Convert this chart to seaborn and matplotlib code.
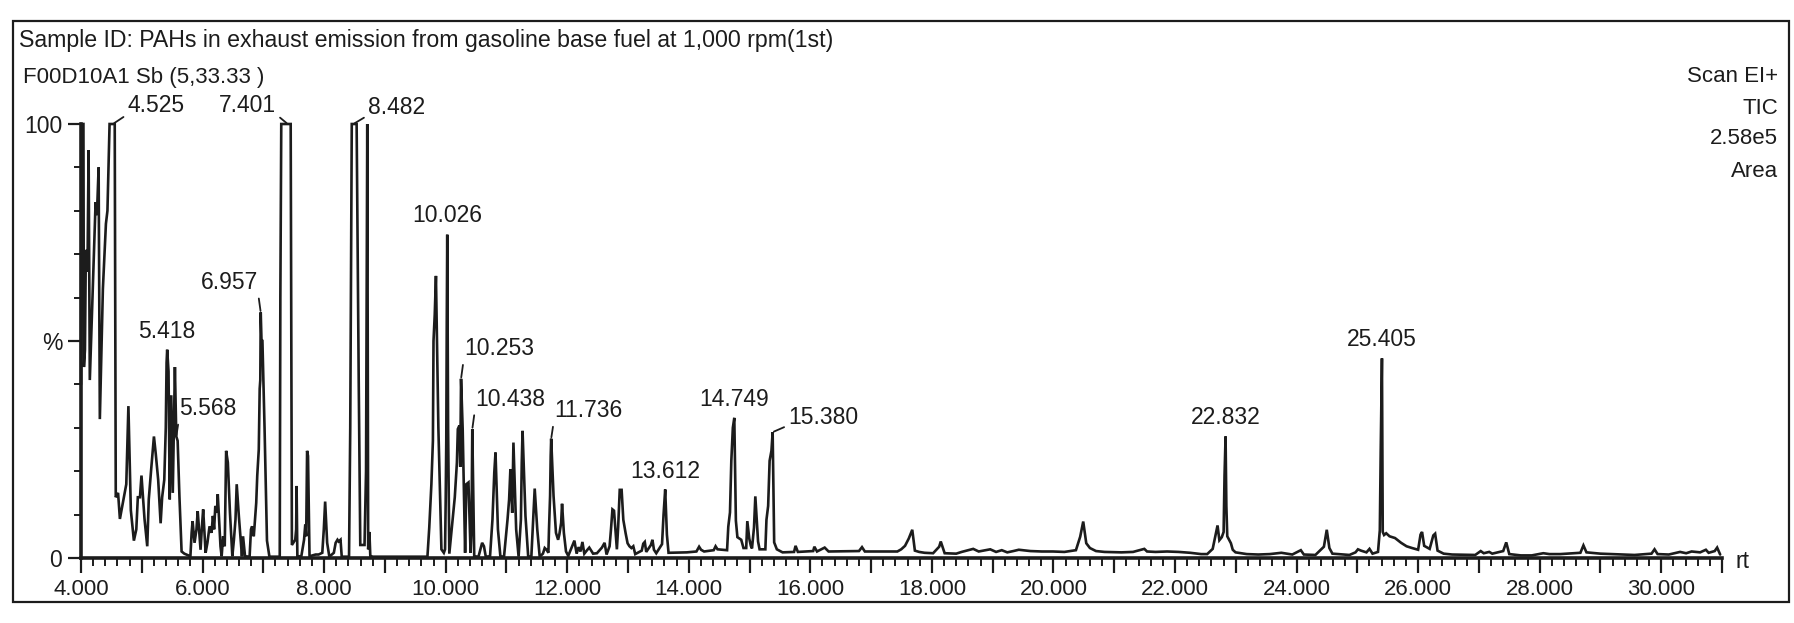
import matplotlib
matplotlib.use("Agg")
import matplotlib.pyplot as plt
import seaborn as sns
import pandas as pd
from matplotlib.ticker import MultipleLocator, FixedLocator, FuncFormatter
from matplotlib.patches import Rectangle

# ---------------- data (retention time in min, intensity in %) ----------------
rt_seg1 = [4.000, 4.008, 4.040, 4.048, 4.065, 4.080, 4.095, 4.108, 4.125, 4.145, 4.185, 4.240,
           4.262, 4.290, 4.310, 4.360, 4.410, 4.435, 4.470, 4.555, 4.572, 4.610, 4.640, 4.700,
           4.745, 4.780, 4.820, 4.870, 4.910, 4.935, 4.970, 4.995, 5.045, 5.090, 5.115, 5.155,
           5.200, 5.230, 5.270, 5.310, 5.335, 5.370, 5.395, 5.408, 5.418, 5.440, 5.460, 5.485,
           5.510, 5.545, 5.568, 5.590, 5.620, 5.655, 5.700]
pct_seg1 = [40, 100, 100, 44, 48, 71, 66, 68, 94, 41, 58, 82,
            79, 90, 32, 62, 77, 80, 100, 100, 14, 15, 9, 13.5,
            17, 35, 11, 4, 6.6, 14, 14, 19, 9, 2.7, 13.5, 20.5,
            28, 24, 18, 8, 14, 18, 30, 45, 48, 43, 13.5, 37.5,
            15, 44, 28, 27, 14, 1.5, 1]

rt_seg2 = [5.800, 5.820, 5.836, 5.868, 5.900, 5.920, 5.967, 5.990, 6.010, 6.050, 6.080, 6.115,
           6.148, 6.170, 6.190, 6.210, 6.237, 6.250, 6.295, 6.314, 6.338, 6.365, 6.377, 6.388,
           6.416, 6.451, 6.490, 6.516, 6.542, 6.562, 6.597, 6.623, 6.648, 6.666, 6.699, 6.774,
           6.797, 6.815, 6.843, 6.863, 6.883, 6.900, 6.925, 6.940, 6.950, 6.957, 6.970, 6.985,
           7.020, 7.060, 7.100, 7.270, 7.280, 7.295, 7.450, 7.470, 7.525, 7.540, 7.547, 7.560,
           7.625, 7.670, 7.690, 7.705, 7.720, 7.735, 7.760, 7.860, 7.910, 7.970, 7.995, 8.017,
           8.050, 8.086, 8.160, 8.190, 8.220, 8.240, 8.270, 8.290, 8.410, 8.430, 8.455, 8.535,
           8.570, 8.595, 8.665, 8.690, 8.710, 8.725, 8.745, 8.760, 8.800]
pct_seg2 = [0.4, 5.8, 8.5, 3.5, 6.6, 10.8, 1.9, 7.3, 11.2, 1.2, 3.5, 7.3,
            5.8, 9.7, 6.6, 12, 10.4, 14.7, 2.7, 0.4, 5, 2.7, 14.3, 24.7,
            22, 10.4, 0.4, 4.2, 8.9, 17, 9.7, 5, 0.4, 5, 0.4, 0.3,
            6.6, 7.3, 5, 8.9, 12.7, 19, 25, 39, 41, 56.6, 50, 50,
            30, 4, 0.3, 0.3, 60, 100, 100, 3, 4.2, 6.6, 16.6, 0.4,
            0.4, 4.2, 7.7, 5, 24.7, 23.5, 0.4, 0.8, 0.8, 1.2, 6.6, 13,
            3.5, 0.3, 1.2, 3.5, 4.2, 3.8, 4.2, 0.3, 0.3, 30, 100, 100,
            40, 3, 3, 20, 100, 2, 6, 0.5, 0.3]

rt_seg3 = [9.700, 9.730, 9.765, 9.790, 9.800, 9.820, 9.840, 9.880, 9.930, 9.970, 9.990, 10.000,
           10.010, 10.018, 10.026, 10.040, 10.060, 10.150, 10.185, 10.200, 10.225, 10.240, 10.253,
           10.280, 10.320, 10.340, 10.375, 10.410, 10.425, 10.438, 10.470, 10.540, 10.600, 10.630,
           10.660, 10.730, 10.770, 10.800, 10.820, 10.860, 10.900, 10.960, 11.018, 11.044, 11.065,
           11.095, 11.115, 11.160, 11.200, 11.238, 11.252, 11.265, 11.313, 11.358, 11.410, 11.440,
           11.465, 11.507, 11.547, 11.600, 11.630, 11.660, 11.690, 11.700, 11.718, 11.728, 11.736,
           11.775, 11.815, 11.850, 11.870, 11.900, 11.915, 11.945, 11.980]
pct_seg3 = [0.3, 7, 17, 27, 50, 56, 65, 30, 2, 1.2, 2, 12.7,
            27, 54, 74.5, 30, 1, 14, 22, 29.7, 30.5, 21, 41.3,
            29.7, 1.2, 17, 17.4, 1.2, 6.6, 29.7, 0.4, 0.3, 3.5, 2.7,
            0.3, 0.4, 8.9, 19.7, 24.3, 6.6, 0.4, 0.3, 8.9, 13.5, 20.5,
            10.4, 26.6, 6.6, 0.3, 8.9, 22, 29.3, 9.7, 0.3, 0.4, 8.9,
            16, 6.6, 0.3, 1, 2.3, 1.9, 1.2, 6.6, 14.3, 23.5, 27.5,
            14.3, 5.8, 4.2, 5.4, 8.1, 12.5, 5.8, 1.5]

rt_seg4 = [12.017, 12.118, 12.155, 12.187, 12.218, 12.250, 12.281, 12.332, 12.363, 12.395, 12.426,
           12.489, 12.571, 12.615, 12.647, 12.697, 12.720, 12.744, 12.770, 12.817, 12.838, 12.864,
           12.895, 12.923, 12.961, 12.993, 13.024, 13.056, 13.087, 13.119, 13.226, 13.251, 13.276,
           13.300, 13.377, 13.402, 13.427, 13.465, 13.560, 13.585, 13.612, 13.640, 13.667, 13.969,
           14.126, 14.170, 14.202, 14.252, 14.410, 14.441, 14.473, 14.630, 14.650, 14.678, 14.700,
           14.725, 14.749, 14.775, 14.800, 14.863, 14.900, 14.945, 14.963, 14.995, 15.021, 15.040,
           15.073, 15.095, 15.140, 15.165, 15.260, 15.278, 15.306, 15.330, 15.360, 15.380, 15.405,
           15.449, 15.543, 15.732, 15.757, 15.795]
pct_seg4 = [0.5, 4, 1, 2.5, 1.5, 3.7, 1, 1.9, 2.4, 1.7, 1,
            1.1, 2.4, 3.5, 0.8, 2.7, 6.6, 11.2, 10.9, 2, 7.1, 15.7,
            15.7, 8.8, 5.7, 3.4, 2.7, 2.3, 2.7, 0.9, 1.7, 3.3, 3.7,
            1.4, 3, 4.2, 1.9, 1.1, 3.2, 10, 15.8, 5.4, 1.2, 1.3,
            1.5, 2.6, 1.9, 1.5, 1.8, 2.7, 2.0, 1.8, 7.2, 10.5, 22.4,
            30, 32.3, 8.6, 4.8, 4.2, 2.3, 2.3, 8.5, 4.5, 2.8, 2.2,
            7.0, 14.2, 3.8, 2.0, 2.0, 8.8, 12, 22.4, 24.7, 29, 3.6,
            2.0, 1.3, 1.4, 2.8, 1.4]

rt_seg5 = [16.047, 16.066, 16.110, 16.236, 16.300, 16.800, 16.850, 16.897, 17.432, 17.495, 17.558,
           17.620, 17.677, 17.720, 17.790, 17.880, 18.020, 18.120, 18.146, 18.210, 18.400, 18.490,
           18.630, 18.680, 18.770, 18.960, 19.056, 19.150, 19.240, 19.340, 19.430, 19.620, 19.810,
           19.990, 20.180, 20.370, 20.440, 20.490, 20.540, 20.600, 20.700, 20.840, 21.120, 21.310,
           21.495, 21.540, 21.680, 21.870, 22.060, 22.250, 22.430, 22.530, 22.620, 22.670, 22.700,
           22.730, 22.770, 22.800, 22.815, 22.832, 22.845, 22.860, 22.920, 22.950, 22.996, 23.180,
           23.370, 23.560, 23.750, 23.930, 24.070, 24.120, 24.310, 24.450, 24.497, 24.540, 24.590,
           24.870, 24.970, 25.010, 25.060, 25.150, 25.200, 25.250, 25.340, 25.370, 25.385, 25.398,
           25.405, 25.418, 25.440, 25.475, 25.530, 25.620, 25.720, 25.810, 25.900, 26.000, 26.040,
           26.065, 26.100, 26.190, 26.250, 26.280, 26.320, 26.420, 26.560, 26.940, 27.030, 27.080,
           27.170, 27.220, 27.400, 27.450, 27.500, 27.690, 27.870, 28.060, 28.160, 28.340, 28.670,
           28.720, 28.770, 29.000, 29.560, 29.840, 29.890, 29.940, 30.125, 30.220, 30.310, 30.410,
           30.500, 30.640, 30.735, 30.780, 30.880, 30.920, 30.970]
pct_seg5 = [1.6, 2.6, 1.5, 2.4, 1.5, 1.6, 2.5, 1.5, 1.5, 2.0, 2.8,
            4.5, 6.5, 1.7, 1.4, 1.2, 1.1, 2.6, 3.8, 1.1, 1.0, 1.4,
            1.9, 2.1, 1.5, 2.0, 1.4, 1.8, 1.3, 1.6, 1.9, 1.6, 1.5,
            1.5, 1.4, 1.8, 4.9, 8.4, 3.4, 2.3, 1.6, 1.4, 1.3, 1.4,
            2.1, 1.5, 1.4, 1.5, 1.4, 1.2, 0.9, 0.9, 2.1, 5.5, 7.5,
            4.1, 4.8, 6.0, 19, 28, 12, 5, 3.4, 1.9, 1.3, 0.9,
            0.8, 0.9, 1.2, 0.8, 1.8, 0.8, 0.7, 2.6, 6.5, 2.3, 1.0,
            0.7, 1.3, 2.0, 1.7, 1.3, 2.1, 1.0, 1.4, 6.4, 25, 38,
            46, 6, 5.3, 5.7, 5.0, 4.6, 3.5, 2.7, 2.3, 1.9, 5.4,
            6.0, 2.8, 2.1, 5.2, 5.6, 1.7, 1.0, 0.8, 0.7, 1.6, 1.1,
            1.4, 1.0, 1.6, 3.6, 0.9, 0.6, 0.6, 1.1, 0.9, 0.9, 1.2,
            2.9, 1.3, 1.0, 0.7, 1.0, 2.0, 0.9, 0.8, 1.1, 1.4, 1.1,
            1.5, 1.3, 1.9, 1.2, 1.6, 2.4, 0.8]

peak_labels = ["4.525", "5.418", "5.568", "6.957", "7.401", "8.482", "10.026", "10.253",
               "10.438", "11.736", "13.612", "14.749", "15.380", "22.832", "25.405"]
peak_rt = [4.525, 5.418, 5.568, 6.957, 7.401, 8.482, 10.026, 10.253,
           10.438, 11.736, 13.612, 14.749, 15.380, 22.832, 25.405]
peak_pct = [100, 48, 28, 56.6, 100, 100, 74.5, 41.3,
            29.7, 27.5, 15.8, 32.3, 29, 28, 46]

x_tick_labels = ["4.000", "6.000", "8.000", "10.000", "12.000", "14.000", "16.000",
                 "18.000", "20.000", "22.000", "24.000", "26.000", "28.000", "30.000"]
y_tick_labels = {0: "0", 50: "%", 100: "100"}

title_text = "Sample ID: PAHs in exhaust emission from gasoline base fuel at 1,000 rpm(1st)"
sub_text = "F00D10A1 Sb (5,33.33 )"
info_lines = ["Scan EI+", "TIC", "2.58e5", "Area"]

# ---------------- layout / style ----------------
W, H = 1794, 623
INK = "#1c1c1c"
label_layout = {  # label -> (dx px, dy px, ha)
    "4.525": (15, 18, "left"), "7.401": (-12, 18, "right"), "8.482": (15, 17, "left"),
    "10.026": (0, 19, "center"), "6.957": (-3, 30, "right"), "5.418": (0, 18, "center"),
    "5.568": (3, 28, "left"), "10.253": (3, 30, "left"), "10.438": (3, 30, "left"),
    "11.736": (3, 28, "left"), "13.612": (0, 18, "center"), "14.749": (0, 18, "center"),
    "15.380": (16, 15, "left"), "22.832": (0, 19, "center"), "25.405": (0, 19, "center"),
}

sns.set_theme(style="white")
plt.rcParams["font.family"] = ["Liberation Sans", "DejaVu Sans"]
plt.rcParams["text.color"] = INK
plt.rcParams["axes.edgecolor"] = INK
plt.rcParams["xtick.color"] = INK
plt.rcParams["ytick.color"] = INK

df = pd.DataFrame({
    "rt": rt_seg1 + rt_seg2 + rt_seg3 + rt_seg4 + rt_seg5,
    "pct": pct_seg1 + pct_seg2 + pct_seg3 + pct_seg4 + pct_seg5,
})

fig = plt.figure(figsize=(W / 100, H / 100), dpi=100)
fig.patch.set_facecolor("white")

ax_left, ax_right, ax_top, ax_bot = 81, 1722, 124, 558
ax = fig.add_axes([ax_left / W, (H - ax_bot) / H, (ax_right - ax_left) / W, (ax_bot - ax_top) / H])
ax.set_facecolor("white")

sns.lineplot(data=df, x="rt", y="pct", sort=False, estimator=None, ax=ax,
             color=INK, linewidth=1.9, legend=False)
for ln in ax.lines:
    ln.set_clip_on(False)
    ln.set_solid_joinstyle("miter")

ax.set_xlim(4.0, 31.0)
ax.set_ylim(0, 100)
ax.set_xlabel("")
ax.set_ylabel("")
for s in ["top", "right"]:
    ax.spines[s].set_visible(False)
for s in ["left", "bottom"]:
    ax.spines[s].set_linewidth(2.6)
    ax.spines[s].set_color(INK)

ax.xaxis.set_major_locator(MultipleLocator(1))
ax.xaxis.set_minor_locator(MultipleLocator(0.2))
even_vals = [float(t) for t in x_tick_labels]
ax.xaxis.set_major_formatter(FuncFormatter(
    lambda v, p: x_tick_labels[even_vals.index(round(v))]
    if round(v) in even_vals and abs(v - round(v)) < 1e-6 else ""))
ax.tick_params(axis="x", which="both", bottom=True, top=False, direction="out")
ax.tick_params(axis="x", which="major", length=11, width=1.6, labelsize=16, pad=4)
ax.tick_params(axis="x", which="minor", length=5.5, width=1.4)

ax.yaxis.set_major_locator(FixedLocator(list(y_tick_labels.keys())))
ax.yaxis.set_minor_locator(MultipleLocator(10))
ax.yaxis.set_major_formatter(FuncFormatter(lambda v, p: y_tick_labels.get(int(round(v)), "")))
ax.tick_params(axis="y", which="both", left=True, right=False, direction="out")
ax.tick_params(axis="y", which="major", length=9.5, width=1.6, labelsize=16.5, pad=4)
ax.tick_params(axis="y", which="minor", length=5, width=1.4)

for lab, x, y in zip(peak_labels, peak_rt, peak_pct):
    dx, dy, ha = label_layout[lab]
    kw = {}
    if ha != "center":
        relx = 0.0 if ha == "left" else 1.0
        kw["arrowprops"] = dict(arrowstyle="-", color=INK, lw=1.3, shrinkA=1, shrinkB=1,
                                relpos=(relx, 0.15))
    ax.annotate(lab, xy=(x, y), xytext=(dx, dy), textcoords="offset pixels",
                ha=ha, va="center", fontsize=16.5, color=INK, annotation_clip=False, **kw)

# header and side texts
fig.text(19 / W, 1 - 40 / H, title_text, ha="left", va="center", fontsize=16.7)
fig.text(23 / W, 1 - 77 / H, sub_text, ha="left", va="center", fontsize=16)
for txt, yy in zip(info_lines, [76, 108, 139, 171]):
    fig.text(1778 / W, 1 - yy / H, txt, ha="right", va="center", fontsize=16)
fig.text(1742 / W, 1 - 562 / H, "rt", ha="center", va="center", fontsize=16.5)

# outer frame
fig.add_artist(Rectangle((13 / W, (H - 602) / H), (1789 - 13) / W, (602 - 21) / H,
                         transform=fig.transFigure, fill=False, lw=1.6, ec=INK))

fig.savefig("out.png", dpi=100, facecolor="white")
